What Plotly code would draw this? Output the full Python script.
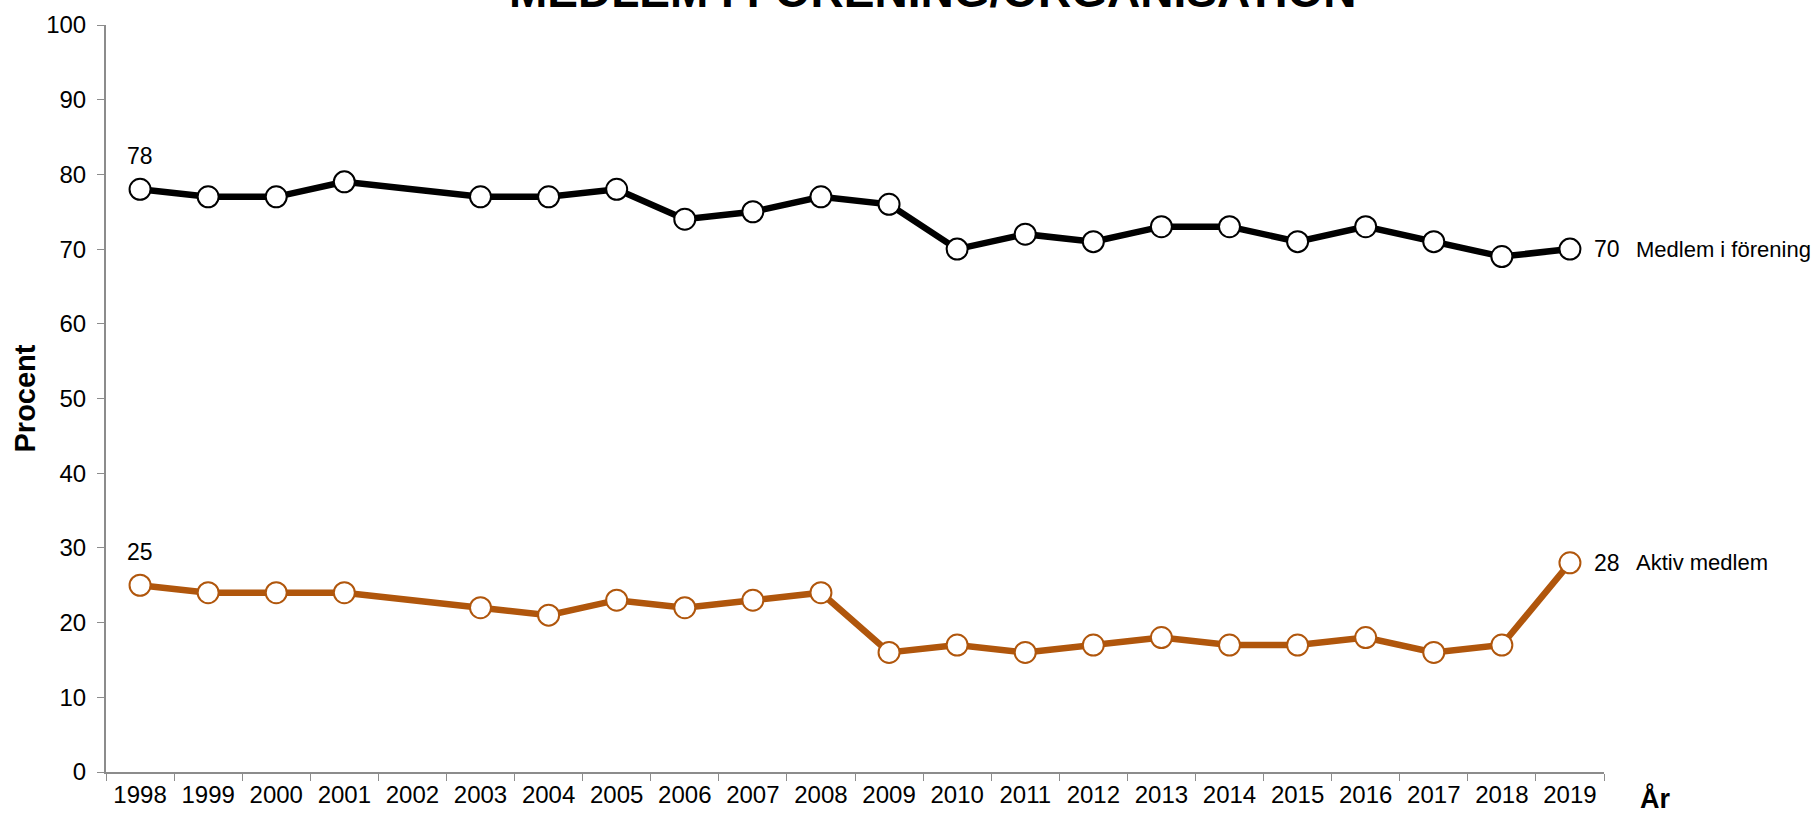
import plotly.graph_objects as go

years = [str(y) for y in range(1998, 2020)]
medlem = [78, 77, 77, 79, None, 77, 77, 78, 74, 75, 77, 76, 70, 72, 71, 73, 73, 71, 73, 71, 69, 70]
aktiv = [25, 24, 24, 24, None, 22, 21, 23, 22, 23, 24, 16, 17, 16, 17, 18, 17, 17, 18, 16, 17, 28]
series_names = ["Medlem i förening", "Aktiv medlem"]
colors = ["#000000", "#B0560C"]
title_text = "MEDLEM I FÖRENING/ORGANISATION"

FONT = "Liberation Sans, Arial, sans-serif"
fig = go.Figure()
last_idx = len(years) - 1
for vals, name, col in zip([medlem, aktiv], series_names, colors):
    fig.add_trace(go.Scatter(
        x=years, y=vals, mode="lines+markers", name=name, connectgaps=True,
        line=dict(color=col, width=6.5),
        marker=dict(size=21, color="white", line=dict(color=col, width=2)),
        cliponaxis=False,
    ))
    # first value label
    fig.add_annotation(x=0, y=vals[0], text=str(vals[0]), showarrow=False,
                       yshift=33, font=dict(family=FONT, size=23, color="black"))
    # end labels
    fig.add_annotation(x=last_idx, y=vals[-1], text=str(vals[-1]), showarrow=False,
                       xanchor="left", xshift=22, font=dict(family=FONT, size=23, color="black"))
    fig.add_annotation(x=last_idx, y=vals[-1], text=name, showarrow=False,
                       xanchor="left", xshift=64, font=dict(family=FONT, size=22, color="black"))

fig.add_annotation(xref="paper", yref="paper", x=0.552, y=1.046, text="<b>" + title_text + "</b>",
                   showarrow=False, xanchor="center", yanchor="middle",
                   font=dict(family=FONT, size=46, color="black"))
fig.add_annotation(xref="paper", yref="paper", x=1.023, y=-0.036, text="<b>År</b>",
                   showarrow=False, xanchor="left", yanchor="middle",
                   font=dict(family=FONT, size=27, color="black"))

fig.update_layout(
    width=1820, height=814,
    margin=dict(l=106, r=216, t=25, b=42, autoexpand=False),
    paper_bgcolor="white", plot_bgcolor="white",
    showlegend=False,
    font=dict(family=FONT, size=24, color="black"),
    xaxis=dict(
        type="category", range=[-0.5, 21.5], tickson="boundaries",
        automargin=False,
        showline=True, linecolor="#8c8c8c", linewidth=2,
        ticks="outside", ticklen=7, tickcolor="#8c8c8c", tickwidth=1,
        showgrid=False, zeroline=False,
        tickfont=dict(family=FONT, size=24, color="black"),
    ),
    yaxis=dict(
        range=[0, 100], dtick=10, tick0=0,
        automargin=False,
        showline=True, linecolor="#8c8c8c", linewidth=2,
        ticks="outside", ticklen=7, tickcolor="#8c8c8c", tickwidth=1,
        ticklabelstandoff=6,
        showgrid=False, zeroline=False,
        tickfont=dict(family=FONT, size=24, color="black"),
        title=dict(text="<b>Procent</b>", font=dict(family=FONT, size=29, color="black"), standoff=2),
    ),
)

fig.write_html("out.html", config={"displayModeBar": False},
               post_script="document.body.style.margin='0';document.body.style.overflow='hidden';")
